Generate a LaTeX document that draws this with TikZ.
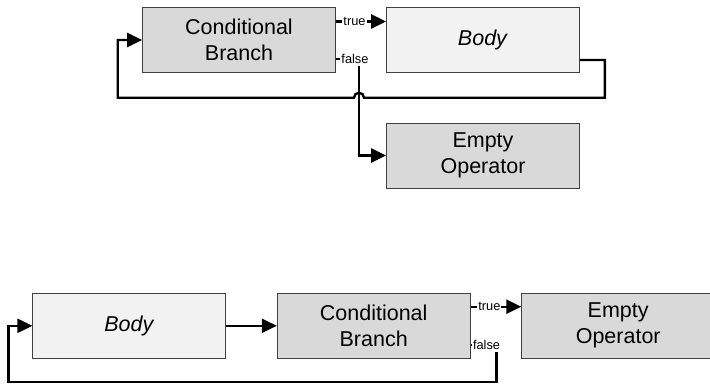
\documentclass[tikz,border=0pt]{standalone}
\usepackage{fontspec}
\setmainfont{Liberation Sans}
\usetikzlibrary{arrows.meta}
\definecolor{boxdark}{HTML}{D9D9D9}
\definecolor{boxlight}{HTML}{F2F2F2}
\definecolor{edgegray}{HTML}{404040}
\begin{document}
\begin{tikzpicture}[x=1pt,y=-1pt,
  blk/.style={draw=edgegray, line width=0.8pt, minimum width=193pt, minimum height=65pt,
    align=center, inner sep=0pt, font=\fontsize{21.5}{26}\selectfont},
  dk/.style={blk, fill=boxdark},
  lt/.style={blk, fill=boxlight},
  conn/.style={line width=2.4pt, -{Triangle[length=15pt,width=14pt]}},
  lbl/.style={fill=white, inner xsep=1pt, inner ysep=2pt, font=\fontsize{12.8}{14}\selectfont}]
\useasboundingbox (0,0) rectangle (710,384);

% top diagram
\node[dk] (cb1) at (239,40) {Conditional\\Branch};
\node[lt] (body1) at (483,40) {\textit{Body}};
\node[dk] (emp1) at (483,155.5) {Empty\\Operator};
\coordinate (hop) at (359,97.7);

\draw[conn] ([yshift=-20pt]body1.east) -- ++(25,0) -- ++(0,37.7)
  -- ([xshift=5pt]hop) arc (0:-180:5) -- (117.7,97.7) |- (cb1.west);
\draw[conn] ([yshift=18.5pt]cb1.east) -- ([yshift=18.5pt]body1.west)
  node[lbl, pos=0.37] {true};
\draw[conn] ([yshift=-19pt]cb1.east) -- ++(23,0) node[lbl, pos=0.83] {false}
  |- (emp1.west);

% bottom diagram
\node[lt] (body2) at (129.3,325.8) {\textit{Body}};
\node[dk] (cb2) at (373.7,325.8) {Conditional\\Branch};
\node[dk] (emp2) at (618.2,325.8) {Empty\\Operator};

\draw[conn] (body2.east) -- (cb2.west);
\draw[conn] ([yshift=19.1pt]cb2.east) -- ([yshift=19.1pt]emp2.west)
  node[lbl, pos=0.37] {true};
\draw[conn] ([yshift=-19.2pt]cb2.east) -- ++(25.7,0) node[lbl, pos=0.62] {false}
  -- ++(0,36.7) -| ([xshift=-24pt]body2.west) -- (body2.west);
\end{tikzpicture}
\end{document}
